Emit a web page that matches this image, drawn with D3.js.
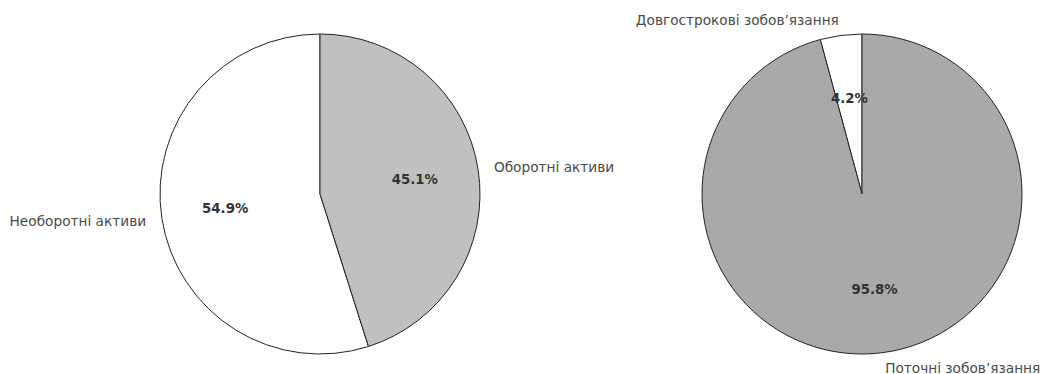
<!DOCTYPE html>
<html><head><meta charset="utf-8">
<script src="https://cdn.jsdelivr.net/npm/d3@7"></script>
<style>body{margin:0;background:#fff}svg{display:block}text{font-family:"DejaVu Sans",sans-serif}</style>
</head><body>
<svg id="c" width="1041" height="374"></svg>
<script>
const leftLabels = ["Необоротні активи", "Оборотні активи"];
const leftValues = [54.9, 45.1];
const leftColors = ["#ffffff", "#c0c0c0"];
const rightLabels = ["Довгострокові зобов’язання", "Поточні зобов’язання"];
const rightValues = [4.2, 95.8];
const rightColors = ["#ffffff", "#a9a9a9"];

const svg = d3.select("#c");
const R = 160;

function drawPie(cx, cy, labels, values, colors) {
  const data = labels.map((l, i) => ({label: l, value: values[i], color: colors[i]}));
  const pie = d3.pie().value(d => d.value).sort(null).startAngle(0).endAngle(-2 * Math.PI);
  const arcs = pie(data);
  const arc = d3.arc().innerRadius(0).outerRadius(R);
  const g = svg.append("g").attr("transform", `translate(${cx},${cy})`);
  g.selectAll("path").data(arcs).join("path")
    .attr("d", arc).attr("fill", d => d.data.color)
    .attr("stroke", "#222").attr("stroke-width", 1).attr("stroke-linejoin", "round");
  arcs.forEach(a => {
    const m = (a.startAngle + a.endAngle) / 2;
    const sx = Math.sin(m), sy = -Math.cos(m);
    g.append("text")
      .attr("x", sx * R * 1.1).attr("y", sy * R * 1.1)
      .attr("text-anchor", sx >= 0 ? "start" : "end")
      .attr("dominant-baseline", "central")
      .attr("font-size", 13.7).attr("fill", "#4a4a4a")
      .text(a.data.label);
    g.append("text")
      .attr("x", sx * R * 0.6).attr("y", sy * R * 0.6)
      .attr("text-anchor", "middle")
      .attr("dominant-baseline", "central")
      .attr("font-size", 13.3).attr("font-weight", "bold").attr("fill", "#333")
      .text(a.data.value.toFixed(1) + "%");
  });
}

drawPie(320, 194, leftLabels, leftValues, leftColors);
drawPie(862, 194, rightLabels, rightValues, rightColors);
</script>
</body></html>
